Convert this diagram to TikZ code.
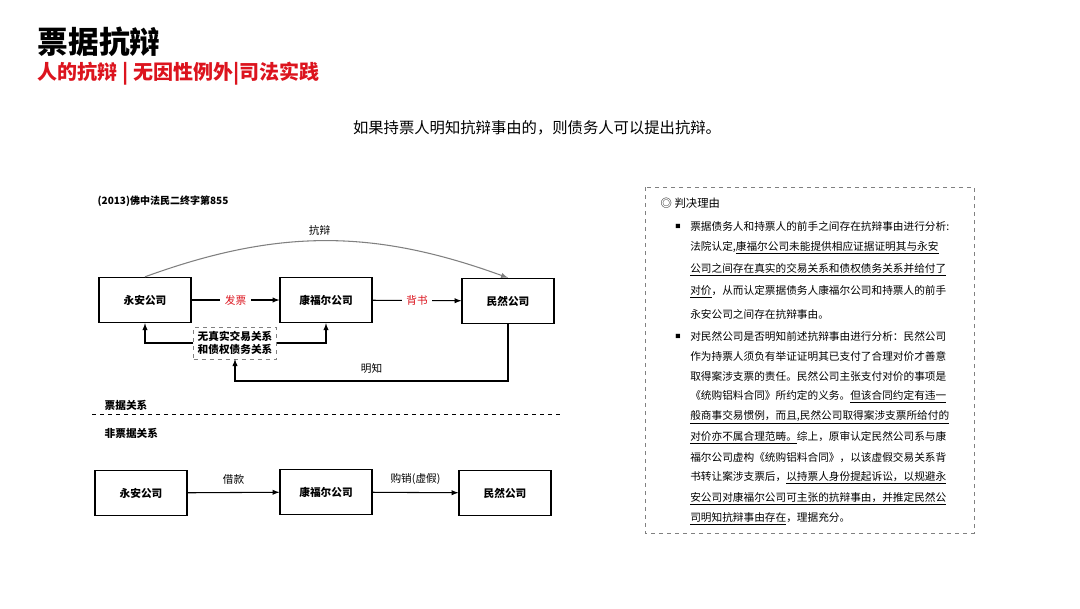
\documentclass[tikz,border=0pt]{standalone}
\usepackage{fontspec}
\setmainfont{Noto Sans CJK SC}
\usetikzlibrary{positioning}
\definecolor{titlered}{RGB}{220,20,30}
\tikzset{
  box/.style={rectangle, draw=black, thick, minimum width=69pt, minimum height=34pt, font=\fontsize{8}{9}\selectfont\bfseries},
  arrow/.style={thick, ->, >=latex},
  lbl/.style={font=\fontsize{8}{9}\selectfont},
  para/.style={anchor=west, font=\fontsize{8}{10}\selectfont, inner sep=0pt}
}
\begin{document}
\begin{tikzpicture}[x=0.75pt,y=-0.75pt]
        \useasboundingbox (0,0) rectangle (1080,608);

        % Title
        \node[anchor=west, font=\fontsize{23}{25}\selectfont\bfseries] (title) at (33,42) {票据抗辩};
        \node[anchor=west, font=\fontsize{15}{17}\selectfont\bfseries, text=titlered] (sub) at (33,74) {人的抗辩 | 无因性例外|司法实践};
        \node[font=\fontsize{11.5}{13}\selectfont] (lead) at (537,128) {如果持票人明知抗辩事由的，则债务人可以提出抗辩。};

        % Case
        \node[anchor=west, font=\fontsize{7.5}{9}\selectfont\bfseries] (case) at (93,201) {(2013)佛中法民二终字第855};

        % Bill relation
        \node[box] (ya) at (145,300) {永安公司};
        \node[box] (kf) at (326,300) {康福尔公司};
        \node[box] (mr) at (508,301) {民然公司};
        \node[draw=gray, dashed, font=\fontsize{8}{10}\selectfont\bfseries, align=left, inner sep=3pt] (nr) at (235,343) {无真实交易关系\\和债权债务关系};

        \draw[arrow, gray] (ya.north) to[out=20, in=160] node[above, lbl, text=black, pos=0.48] {抗辩} (mr.north);
        \draw[arrow] (ya) -- node[lbl, text=titlered, fill=white] {发票} (kf);
        \draw[arrow] (kf) -- node[lbl, text=titlered, fill=white] {背书} (mr);
        \draw[arrow] (nr.west) -| (ya.south);
        \draw[arrow] (nr.east) -| (kf.south);
        \draw[arrow] (mr.south) |- (235,381) node[lbl, pos=0.75, above=2pt] {明知} -- (nr.south);

        % Separator
        \node[anchor=west, font=\fontsize{8}{9}\selectfont\bfseries\itshape] (bill) at (100,405) {票据关系};
        \draw[dashed] (92,414) -- (560,414);
        \node[anchor=west, font=\fontsize{8}{9}\selectfont\bfseries\itshape] (nbill) at (100,433) {非票据关系};

        % Non-bill relation
        \node[box] (ya2) at (141,493) {永安公司};
        \node[box] (kf2) at (326,492) {康福尔公司};
        \node[box] (mr2) at (505,493) {民然公司};
        \draw[arrow] (ya2) -- node[lbl, above=2pt] {借款} (kf2);
        \draw[arrow] (kf2) -- node[lbl, above=2pt] {购销(虚假)} (mr2);

        % Reasons
        \draw[dashed, gray] (645,187) rectangle (974,533);
        \node[anchor=west, font=\fontsize{8.5}{10}\selectfont] (head) at (656,203) {◎\ 判决理由};
        \node[font=\fontsize{4}{4}\selectfont] (b1) at (678,226) {■};
        \node[font=\fontsize{4}{4}\selectfont] (b2) at (678,336) {■};
        \node[para] at (690,226) {票据债务人和持票人的前手之间存在抗辩事由进行分析:};
        \node[para] at (690,248) {法院认定,\underline{康福尔公司未能提供相应证据证明其与永安}};
        \node[para] at (690,270) {\underline{公司之间存在真实的交易关系和债权债务关系并给付了}};
        \node[para] at (690,292) {\underline{对价}，从而认定票据债务人康福尔公司和持票人的前手};
        \node[para] at (690,314) {永安公司之间存在抗辩事由。};
        \node[para] at (690,336) {对民然公司是否明知前述抗辩事由进行分析：民然公司};
        \node[para] at (690,356.3) {作为持票人须负有举证证明其已支付了合理对价才善意};
        \node[para] at (690,376.6) {取得案涉支票的责任。民然公司主张支付对价的事项是};
        \node[para] at (690,396.9) {《统购铝料合同》所约定的义务。\underline{但该合同约定有违一}};
        \node[para] at (690,417.2) {\underline{般商事交易惯例，而且,民然公司取得案涉支票所给付的}};
        \node[para] at (690,437.5) {\underline{对价亦不属合理范畴。}综上，原审认定民然公司系与康};
        \node[para] at (690,457.8) {福尔公司虚构《统购铝料合同》，以该虚假交易关系背};
        \node[para] at (690,478.1) {书转让案涉支票后，\underline{以持票人身份提起诉讼，以规避永}};
        \node[para] at (690,498.4) {\underline{安公司对康福尔公司可主张的抗辩事由，并推定民然公}};
        \node[para] at (690,518.7) {\underline{司明知抗辩事由存在}，理据充分。};
\end{tikzpicture}
\end{document}
